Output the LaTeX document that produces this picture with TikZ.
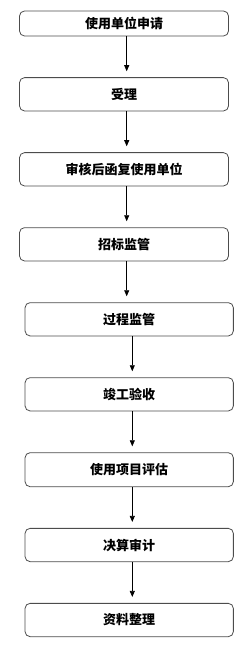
\documentclass[tikz,border=0pt]{standalone}
\usepackage{fontspec}
\newfontfamily\cjk{Noto Sans CJK SC}
\usetikzlibrary{arrows.meta}
\tikzset{
  box/.style={draw=black!70, line width=0.8pt, rounded corners=5pt, minimum width=209pt, inner sep=0pt, font=\cjk\bfseries\fontsize{13pt}{15pt}\selectfont, text=black},
  arr/.style={draw=black, line width=0.6pt, -{Triangle[length=6pt,width=5pt]}, shorten >=6pt}
}
\begin{document}
\begin{tikzpicture}[x=1pt,y=-1pt]
\useasboundingbox (0,0) rectangle (245,652);
\node[box, minimum height=25pt] (b1) at (124,23.5) {使用单位申请};
\node[box, minimum height=33.3pt] (b2) at (124,94.3) {受理};
\node[box, minimum height=33.3pt] (b3) at (124,169.3) {审核后函复使用单位};
\node[box, minimum height=33.3pt] (b4) at (124,244.3) {招标监管};
\node[box, minimum height=33.3pt, minimum width=208.3pt] (b5) at (129.2,319.3) {过程监管};
\node[box, minimum height=33.3pt, minimum width=208.3pt] (b6) at (129.2,394.3) {竣工验收};
\node[box, minimum height=34pt, minimum width=208.3pt] (b7) at (129.2,469.7) {使用项目评估};
\node[box, minimum height=33.3pt, minimum width=208.3pt] (b8) at (129.2,545) {决算审计};
\node[box, minimum height=33.3pt, minimum width=208.3pt] (b9) at (129.2,620) {资料整理};
\foreach \a/\b in {b1/b2,b2/b3,b3/b4,b4/b5}
  \draw[arr] ([xshift=2.7pt]\a.south) -- ([xshift=2.7pt]\a.south |- \b.north);
\foreach \a/\b in {b5/b6,b6/b7,b7/b8,b8/b9}
  \draw[arr] ([xshift=3.1pt]\a.south) -- ([xshift=3.1pt]\a.south |- \b.north);
\end{tikzpicture}
\end{document}
